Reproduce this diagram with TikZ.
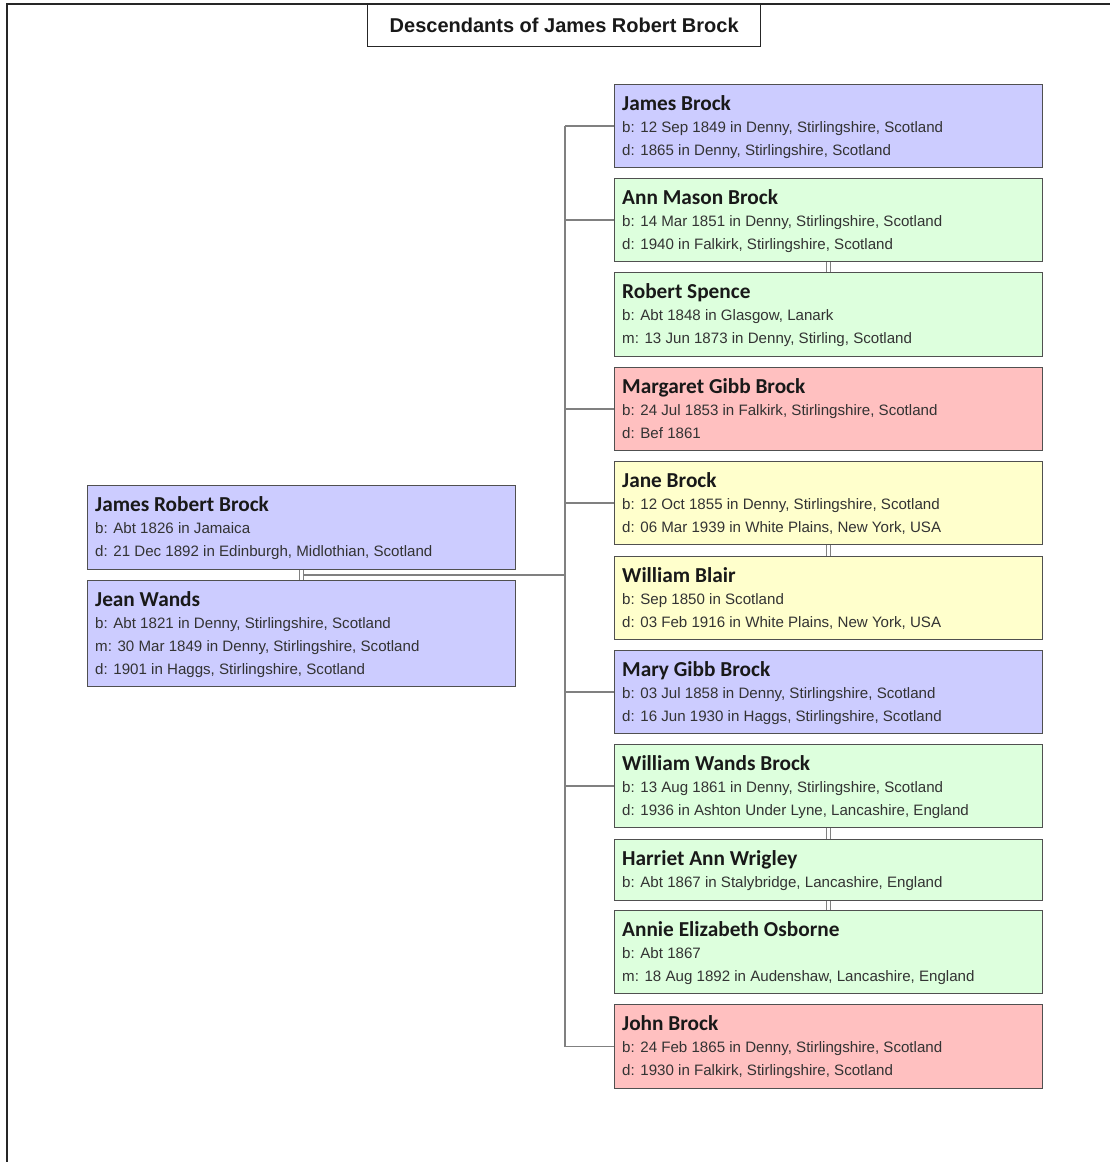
\documentclass[tikz,border=0pt]{standalone}
\usepackage{fontspec}
\setmainfont{Liberation Sans}
\newfontfamily\cardnamefont{Carlito}[BoldFont={* Bold}]
\usetikzlibrary{calc}

\definecolor{maleblue}{RGB}{204,204,255}
\definecolor{femgreen}{RGB}{221,255,221}
\definecolor{deadred}{RGB}{255,192,192}
\definecolor{emigyellow}{RGB}{255,255,204}
\definecolor{cardedge}{RGB}{80,80,80}
\definecolor{linkgray}{RGB}{128,128,128}
\definecolor{infogray}{RGB}{51,51,51}

\tikzset{
  card/.style={draw=cardedge, line width=1.2pt, rectangle, inner sep=0pt,
               minimum width=428pt, anchor=north west},
  bluecard/.style={card, fill=maleblue},
  greencard/.style={card, fill=femgreen},
  redcard/.style={card, fill=deadred},
  yellowcard/.style={card, fill=emigyellow},
  nametext/.style={anchor=base west, inner sep=0pt, text=black!90,
                   font=\cardnamefont\bfseries\fontsize{21.3}{24}\selectfont},
  infotext/.style={anchor=base west, inner sep=0pt, text=infogray,
                   font=\fontsize{15.1}{18}\selectfont},
  link/.style={draw=linkgray, line width=1.4pt},
  frameline/.style={draw=black!85, line width=1.6pt},
  titlebox/.style={draw=black!85, line width=1.4pt, rectangle, inner sep=0pt,
                   minimum width=393pt, minimum height=42pt, anchor=north west,
                   font=\bfseries\fontsize{20}{23}\selectfont, text=black!90}
}

% a person card: id, style, left, top, height, name
\newcommand\famcard[6]{%
  \node[#2, minimum height=#5pt] (#1) at (#3,#4) {};
  \node[nametext] (#1-n) at ([xshift=8pt,yshift=-26pt]#1.north west) {#6};
}
% one detail line of a card: id, line number, text
\newcommand\infoline[3]{%
  \node[infotext] (#1-#2) at ([xshift=8pt,yshift={-25pt-23pt*#2}]#1.north west) {#3};
}

\begin{document}
\begin{tikzpicture}[x=1pt,y=-1pt]
\useasboundingbox (0,0) rectangle (1110,1162);
\fill[white] (0,0) rectangle (1110,1162);

% page frame
\draw[frameline] (1110,4) -- (7,4) -- (7,1162);

% title
\node[titlebox] (title) at (367,4) {Descendants of James Robert Brock};

% parents
\famcard{jrb}{bluecard}{87}{485}{84}{James Robert Brock}
\infoline{jrb}{1}{b: Abt 1826 in Jamaica}
\infoline{jrb}{2}{d: 21 Dec 1892 in Edinburgh, Midlothian, Scotland}

\famcard{jw}{bluecard}{87}{580}{106}{Jean Wands}
\infoline{jw}{1}{b: Abt 1821 in Denny, Stirlingshire, Scotland}
\infoline{jw}{2}{m: 30 Mar 1849 in Denny, Stirlingshire, Scotland}
\infoline{jw}{3}{d: 1901 in Haggs, Stirlingshire, Scotland}

% children and their spouses
\famcard{jbk}{bluecard}{614}{84}{83}{James Brock}
\infoline{jbk}{1}{b: 12 Sep 1849 in Denny, Stirlingshire, Scotland}
\infoline{jbk}{2}{d: 1865 in Denny, Stirlingshire, Scotland}

\famcard{amb}{greencard}{614}{178}{83}{Ann Mason Brock}
\infoline{amb}{1}{b: 14 Mar 1851 in Denny, Stirlingshire, Scotland}
\infoline{amb}{2}{d: 1940 in Falkirk, Stirlingshire, Scotland}

\famcard{rsp}{greencard}{614}{272}{84}{Robert Spence}
\infoline{rsp}{1}{b: Abt 1848 in Glasgow, Lanark}
\infoline{rsp}{2}{m: 13 Jun 1873 in Denny, Stirling, Scotland}

\famcard{mgb}{redcard}{614}{367}{83}{Margaret Gibb Brock}
\infoline{mgb}{1}{b: 24 Jul 1853 in Falkirk, Stirlingshire, Scotland}
\infoline{mgb}{2}{d: Bef 1861}

\famcard{jnb}{yellowcard}{614}{461}{83}{Jane Brock}
\infoline{jnb}{1}{b: 12 Oct 1855 in Denny, Stirlingshire, Scotland}
\infoline{jnb}{2}{d: 06 Mar 1939 in White Plains, New York, USA}

\famcard{wbl}{yellowcard}{614}{556}{83}{William Blair}
\infoline{wbl}{1}{b: Sep 1850 in Scotland}
\infoline{wbl}{2}{d: 03 Feb 1916 in White Plains, New York, USA}

\famcard{mrb}{bluecard}{614}{650}{83}{Mary Gibb Brock}
\infoline{mrb}{1}{b: 03 Jul 1858 in Denny, Stirlingshire, Scotland}
\infoline{mrb}{2}{d: 16 Jun 1930 in Haggs, Stirlingshire, Scotland}

\famcard{wwb}{greencard}{614}{744}{83}{William Wands Brock}
\infoline{wwb}{1}{b: 13 Aug 1861 in Denny, Stirlingshire, Scotland}
\infoline{wwb}{2}{d: 1936 in Ashton Under Lyne, Lancashire, England}

\famcard{haw}{greencard}{614}{839}{61}{Harriet Ann Wrigley}
\infoline{haw}{1}{b: Abt 1867 in Stalybridge, Lancashire, England}

\famcard{aeo}{greencard}{614}{910}{83}{Annie Elizabeth Osborne}
\infoline{aeo}{1}{b: Abt 1867}
\infoline{aeo}{2}{m: 18 Aug 1892 in Audenshaw, Lancashire, England}

\famcard{jhb}{redcard}{614}{1004}{84}{John Brock}
\infoline{jhb}{1}{b: 24 Feb 1865 in Denny, Stirlingshire, Scotland}
\infoline{jhb}{2}{d: 1930 in Falkirk, Stirlingshire, Scotland}

% marriage links (double bars)
\foreach \a/\b in {jrb/jw, amb/rsp, jnb/wbl, wwb/haw, haw/aeo} {
  \draw[link, line width=1.1pt] ([xshift=-2pt]\a.south) -- ([xshift=-2pt]\b.north);
  \draw[link, line width=1.1pt] ([xshift=2pt]\a.south) -- ([xshift=2pt]\b.north);
}

% descent lines
\coordinate (couple) at ($(jrb.south)!0.5!(jw.north)$);
\coordinate (trunk) at (565,0);
\draw[link] ([xshift=2pt]couple) -- (couple -| trunk);
\draw[link] (jbk.west -| trunk) -- (jhb.west -| trunk);
\foreach \c in {jbk, amb, mgb, jnb, mrb, wwb, jhb}
  \draw[link] (\c.west -| trunk) -- (\c.west);

\end{tikzpicture}
\end{document}
